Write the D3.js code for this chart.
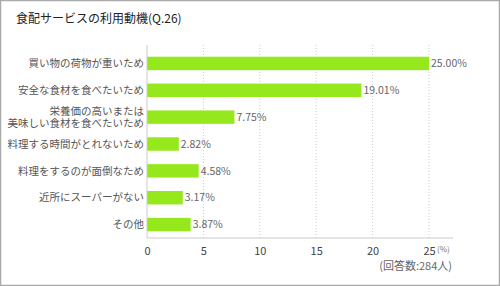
<!DOCTYPE html>
<html>
<head>
<meta charset="utf-8">
<script src="https://cdn.jsdelivr.net/npm/d3@7"></script>
<style>
  body { margin: 0; background: #fff; }
  svg { display: block; font-family: "Noto Sans CJK JP", "Noto Sans", sans-serif; }
</style>
</head>
<body>
<div id="chart"></div>
<script>
// data
var categories = [
  ["買い物の荷物が重いため"],
  ["安全な食材を食べたいため"],
  ["栄養価の高いまたは", "美味しい食材を食べたいため"],
  ["料理する時間がとれないため"],
  ["料理をするのが面倒なため"],
  ["近所にスーパーがない"],
  ["その他"]
];
var values = [25.00, 19.01, 7.75, 2.82, 4.58, 3.17, 3.87];
var ticks = [0, 5, 10, 15, 20, 25];

var W = 500, H = 286;
var svg = d3.select("#chart").append("svg")
  .attr("width", W)
  .attr("height", H);

// outer frame
svg.append("rect")
  .attr("x", 0.5).attr("y", 0.5)
  .attr("width", W - 1).attr("height", H - 1)
  .attr("fill", "#fff")
  .attr("stroke", "#aaa")
  .attr("stroke-width", 1.5);

// title
svg.append("text")
  .attr("x", 16).attr("y", 23)
  .attr("font-size", 12)
  .attr("fill", "#222")
  .text("食配サービスの利用動機(Q.26)");

var x = d3.scaleLinear().domain([0, 25]).range([147, 429]);
var y = d3.scaleBand()
  .domain(d3.range(values.length))
  .range([50, 238])
  .paddingInner(0.5)
  .paddingOuter(0.25);

// dotted gridlines
svg.append("g")
  .selectAll("line")
  .data(ticks.slice(1))
  .join("line")
  .attr("x1", d => x(d)).attr("x2", d => x(d))
  .attr("y1", 45).attr("y2", 238)
  .attr("stroke", "#ccc")
  .attr("stroke-dasharray", "1,2");

// bars
svg.append("g")
  .selectAll("rect")
  .data(values)
  .join("rect")
  .attr("x", x(0))
  .attr("y", (d, i) => y(i))
  .attr("width", d => x(d) - x(0))
  .attr("height", y.bandwidth())
  .attr("fill", "#95e81b");

// value labels
svg.append("g")
  .selectAll("text")
  .data(values)
  .join("text")
  .attr("x", d => x(d) + 2)
  .attr("y", (d, i) => y(i) + y.bandwidth() / 2)
  .attr("dy", "0.35em")
  .attr("font-size", 10.5)
  .attr("fill", "#666")
  .text(d => d.toFixed(2) + "%");

// category labels
svg.append("g")
  .selectAll("text")
  .data(categories)
  .join("text")
  .attr("text-anchor", "end")
  .attr("font-size", 10.5)
  .attr("fill", "#555")
  .attr("y", (d, i) => y(i) + y.bandwidth() / 2 - (d.length - 1) * 6)
  .each(function(d) {
    var t = d3.select(this);
    d.forEach(function(line, j) {
      t.append("tspan")
        .attr("x", 144)
        .attr("dy", j === 0 ? "0.35em" : 12)
        .text(line);
    });
  });

// axes lines
svg.append("line")
  .attr("x1", x(0)).attr("x2", x(0))
  .attr("y1", 45).attr("y2", 238)
  .attr("stroke", "#ccc");

var xAxis = svg.append("g")
  .attr("transform", "translate(0,238)")
  .call(d3.axisBottom(x).tickValues(ticks).tickSize(0).tickPadding(9));
xAxis.select(".domain").remove();
xAxis.selectAll("text")
  .attr("font-size", 11)
  .attr("font-family", "'Noto Sans CJK JP', sans-serif")
  .attr("fill", "#444");

svg.append("line")
  .attr("x1", x(0)).attr("x2", 453)
  .attr("y1", 238).attr("y2", 238)
  .attr("stroke", "#ccc")
  .attr("stroke-width", 1.2);

svg.append("text")
  .attr("x", 437).attr("y", 252)
  .attr("font-size", 8)
  .attr("fill", "#777")
  .text("(%)");

svg.append("text")
  .attr("x", 452).attr("y", 270)
  .attr("text-anchor", "end")
  .attr("font-size", 11)
  .attr("fill", "#666")
  .text("(回答数:284人)");
</script>
</body>
</html>
